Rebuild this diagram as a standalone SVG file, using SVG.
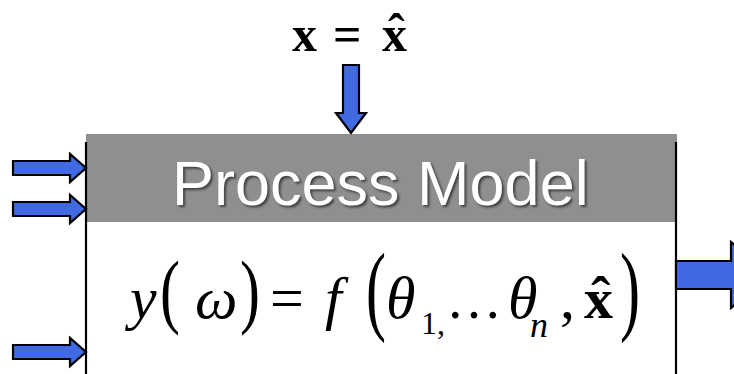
<svg xmlns="http://www.w3.org/2000/svg" width="734" height="374" viewBox="0 0 734 374">
<style>
.arrow{fill:#4169e1;stroke:#000;stroke-width:2.2;stroke-linejoin:miter}
.edge{stroke:#000;stroke-width:2.2;fill:none}
.title{font-family:"Liberation Sans",Arial,sans-serif;font-size:63px;fill:#fff}
.shadow{font-family:"Liberation Sans",Arial,sans-serif;font-size:63px;fill:#222;opacity:0.7}
.m{font-family:"Liberation Serif","Times New Roman",serif;font-size:60px;fill:#000}
.t{font-size:50px}
.i{font-style:italic}
.b{font-weight:bold}
.s{font-size:32px}
</style>
<defs>
<filter id="blur" x="-5%" y="-20%" width="110%" height="140%"><feGaussianBlur stdDeviation="1"/></filter>
</defs>
<rect width="734" height="374" fill="#fff"/>
<g id="top-label">
<text class="m b t" x="292" y="51">x</text>
<text class="m b t" x="333" y="51">=</text>
<text class="m b t" x="382" y="51">x</text>
<text class="m b t" x="388" y="49">ˆ</text>
</g>
<g id="process-model">
<rect x="86" y="134" width="591" height="88" fill="#8f8f8f"/>
<line class="edge" x1="86" y1="142" x2="86" y2="374"/>
<line class="edge" x1="676" y1="142" x2="676" y2="374"/>
<text class="shadow" x="174" y="207" filter="url(#blur)">Process Model</text>
<text class="title" x="172" y="205">Process Model</text>
<g id="equation">
<text class="m i" x="130" y="318">y</text>
<text class="m" transform="translate(160,318) scale(1,1.37)">(</text>
<text class="m i" x="195" y="318">ω</text>
<text class="m" transform="translate(240,318) scale(1,1.37)">)</text>
<text class="m" x="270" y="318">=</text>
<text class="m i" x="325" y="318">f</text>
<text class="m" transform="translate(366,322) scale(1,1.65)">(</text>
<text class="m i" x="386" y="318">θ</text>
<text class="m s" x="421" y="334">1,</text>
<text class="m" x="446" y="318" style="font-size:56px">…</text>
<text class="m i" x="508" y="318">θ</text>
<text class="m i" x="530" y="337" style="font-size:36px">n</text>
<text class="m" x="560" y="318">,</text>
<text class="m b" x="584" y="318" style="font-size:58px">x</text>
<text class="m b" x="591" y="316" style="font-size:58px">ˆ</text>
<text class="m" transform="translate(620,322) scale(1,1.65)">)</text>
</g>
</g>
<g id="connectors">
<polygon class="arrow" points="13,161 70,161 70,154 86,168 70,182 70,175 13,175"/>
<polygon class="arrow" points="13,202 70,202 70,195 86,209 70,223 70,216 13,216"/>
<polygon class="arrow" points="13,345 70,345 70,338 86,352 70,366 70,359 13,359"/>
<polygon class="arrow" points="343,65 359,65 359,113 366,113 351,133 336,113 343,113"/>
<polygon class="arrow" points="676,261 731,261 731,242 770,275 731,308 731,289 676,289"/>
</g>
</svg>
